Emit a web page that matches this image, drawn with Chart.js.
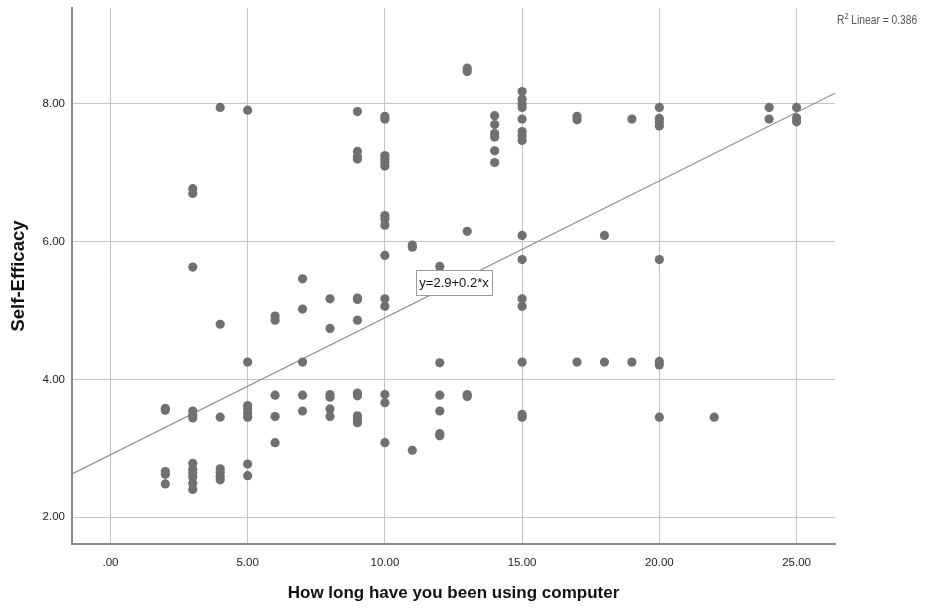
<!DOCTYPE html>
<html>
<head>
<meta charset="utf-8">
<script src="https://cdn.jsdelivr.net/npm/chart.js@4/dist/chart.umd.min.js"></script>
<style>
  body { margin: 0; background: #fff; }
</style>
</head>
<body>
<canvas id="scatterCanvas" width="932" height="609"></canvas>
<script>
// years of computer use (x) and self-efficacy score (y)
const experience = [
    2, 2, 2, 2, 2,
    3, 3, 3, 3, 3, 3, 3, 3, 3, 3, 3, 3,
    4, 4, 4, 4, 4, 4, 4,
    5, 5, 5, 5, 5, 5, 5, 5,
    6, 6, 6, 6, 6,
    7, 7, 7, 7, 7,
    8, 8, 8, 8, 8, 8,
    9, 9, 9, 9, 9, 9, 9, 9, 9, 9, 9, 9,
    10, 10, 10, 10, 10, 10, 10, 10, 10, 10, 10, 10, 10, 10, 10,
    11, 11, 11,
    12, 12, 12, 12, 12, 12,
    13, 13, 13, 13, 13,
    14, 14, 14, 14, 14, 14,
    15, 15, 15, 15, 15, 15, 15, 15, 15, 15, 15, 15, 15, 15, 15,
    17, 17, 17,
    18, 18,
    19, 19,
    20, 20, 20, 20, 20, 20, 20, 20,
    22,
    24, 24,
    25, 25, 25
];
const selfEfficacy = [
    3.58, 3.55, 2.66, 2.62, 2.48,
    6.77, 6.70, 5.63, 3.54, 3.48, 3.44, 2.78, 2.69, 2.64, 2.58, 2.49, 2.40,
    7.95, 4.80, 3.45, 2.70, 2.65, 2.59, 2.54,
    7.91, 4.25, 3.62, 3.57, 3.51, 3.45, 2.77, 2.60,
    4.92, 4.86, 3.77, 3.46, 3.08,
    5.46, 5.02, 4.25, 3.77, 3.54,
    5.17, 4.74, 3.78, 3.74, 3.57, 3.46,
    7.89, 7.31, 7.23, 7.20, 5.18, 5.16, 4.86, 3.80, 3.76, 3.47, 3.42, 3.37,
    7.82, 7.78, 7.25, 7.20, 7.15, 7.10, 6.38, 6.33, 6.24, 5.80, 5.17, 5.06, 3.78, 3.66, 3.08,
    5.95, 5.92, 2.97,
    5.64, 4.24, 3.77, 3.54, 3.21, 3.18,
    8.52, 8.47, 6.15, 3.78, 3.75,
    7.83, 7.70, 7.57, 7.52, 7.32, 7.15,
    8.18, 8.07, 8.00, 7.95, 7.78, 7.60, 7.54, 7.47, 6.09, 5.74, 5.17, 5.06, 4.25, 3.49, 3.45,
    7.82, 7.77, 4.25,
    6.09, 4.25,
    7.78, 4.25,
    7.95, 7.79, 7.74, 7.68, 5.74, 4.26, 4.21, 3.45,
    3.45,
    7.95, 7.78,
    7.95, 7.80, 7.74
];

// fit line as printed on the chart
const fitIntercept = 2.903;
const fitSlope = 0.199;
const fitLabel = 'y=2.9+0.2*x';
const rSquared = '0.386';

const xMin = -1.40, xMax = 26.40;
const yMin = 1.608, yMax = 9.394;

const points = experience.map((x, i) => ({ x: x, y: selfEfficacy[i] }));
const fitLine = [
    { x: xMin, y: fitIntercept + fitSlope * xMin },
    { x: xMax, y: fitIntercept + fitSlope * xMax }
];

const fontName = "'Liberation Sans', Arial, sans-serif";

// equation box and R² note
const notes = {
    id: 'notes',
    afterDatasetsDraw(chart) {
        const c = chart.ctx;
        const xs = chart.scales.x, ys = chart.scales.y;
        c.save();
        // equation box, anchored in data space
        const cx = xs.getPixelForValue(12.5);
        const cy = ys.getPixelForValue(5.40);
        const w = 76, h = 25;
        const bx = Math.round(cx - w / 2), by = Math.round(cy - h / 2);
        c.fillStyle = '#fff';
        c.fillRect(bx, by, w, h);
        c.strokeStyle = '#9a9a9a';
        c.lineWidth = 1;
        c.strokeRect(bx + 0.5, by + 0.5, w, h);
        c.font = '13px ' + fontName;
        c.fillStyle = '#111';
        c.textAlign = 'center';
        c.textBaseline = 'middle';
        c.fillText(fitLabel, bx + w / 2, by + h / 2 + 1);

        // R² Linear note, top right (narrow type)
        c.translate(837, 24);
        c.scale(0.82, 1);
        c.textAlign = 'left';
        c.textBaseline = 'alphabetic';
        c.fillStyle = '#555';
        let px = 0;
        c.font = '12.5px ' + fontName;
        c.fillText('R', px, 0);
        px += c.measureText('R').width;
        c.font = '9px ' + fontName;
        c.fillText('2', px, -5);
        px += c.measureText('2').width;
        c.font = '12.5px ' + fontName;
        c.fillText(' Linear = ' + rSquared, px, 0);
        c.restore();
    }
};

const ctx = document.getElementById('scatterCanvas').getContext('2d');
const chart = new Chart(ctx, {
    type: 'scatter',
    data: {
        datasets: [{
            label: 'Self-Efficacy',
            data: points,
            backgroundColor: '#707070',
            borderColor: '#707070',
            pointRadius: 4.6,
            pointBorderWidth: 0
        }, {
            type: 'line',
            label: 'Fit',
            data: fitLine,
            borderColor: '#8a8a8a',
            borderWidth: 1.2,
            pointRadius: 0,
            fill: false
        }]
    },
    options: {
        responsive: false,
        animation: false,
        devicePixelRatio: 1,
        layout: { padding: { top: 8, right: 97, left: 0, bottom: 0 } },
        plugins: {
            legend: { display: false },
            tooltip: { enabled: false }
        },
        scales: {
            x: {
                type: 'linear',
                min: xMin,
                max: xMax,
                afterFit(scale) {
                    scale.height = 65;
                    scale.paddingLeft = 0;
                    scale.paddingRight = 0;
                },
                grid: { color: '#c4c4c4', lineWidth: 1, drawTicks: false },
                border: { color: '#8a8a8a', width: 2 },
                ticks: {
                    stepSize: 5,
                    includeBounds: false,
                    padding: 12,
                    color: '#222',
                    font: { family: fontName, size: 11.5 },
                    maxRotation: 0,
                    callback: v => v === 0 ? '.00' : v.toFixed(2)
                },
                title: {
                    display: true,
                    text: 'How long have you been using computer',
                    color: '#111',
                    font: { family: fontName, size: 17, weight: 'bold' },
                    padding: { top: 0, bottom: 5 }
                }
            },
            y: {
                type: 'linear',
                min: yMin,
                max: yMax,
                afterFit(scale) {
                    scale.width = 72;
                    scale.paddingTop = 0;
                    scale.paddingBottom = 0;
                },
                grid: { color: '#c4c4c4', lineWidth: 1, drawTicks: false },
                border: { color: '#8a8a8a', width: 2 },
                ticks: {
                    stepSize: 2,
                    includeBounds: false,
                    padding: 7,
                    color: '#222',
                    font: { family: fontName, size: 11.5 },
                    callback: v => v.toFixed(2)
                },
                title: {
                    display: true,
                    text: 'Self-Efficacy',
                    color: '#111',
                    font: { family: fontName, size: 18.5, weight: 'bold' },
                    padding: { top: 8, bottom: 0 }
                }
            }
        }
    },
    plugins: [notes]
});
</script>
</body>
</html>
